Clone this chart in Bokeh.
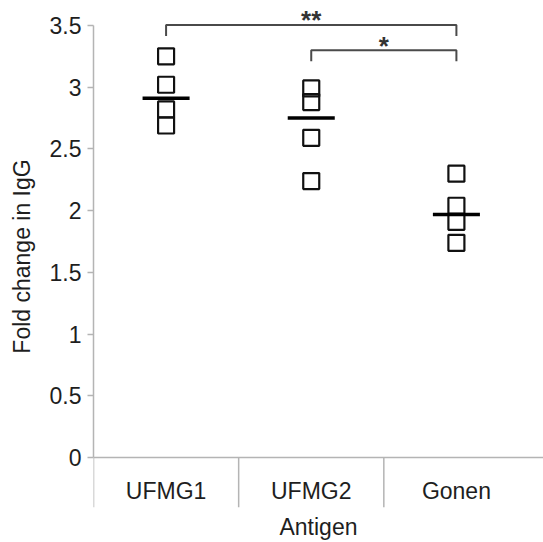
from bokeh.plotting import figure
from bokeh.models import Range1d, FixedTicker, Span
from bokeh.core.properties import value
from bokeh.embed import file_html
from bokeh.resources import INLINE

# Antigen groups and fold-change values (IgG)
categories = ["UFMG1", "UFMG2", "Gonen"]
ufmg1 = [3.25, 3.02, 2.82, 2.69]
ufmg2 = [2.99, 2.88, 2.59, 2.24]
gonen = [2.30, 2.04, 1.91, 1.74]
group_means = [2.91, 2.75, 1.97]

# significance brackets: (left group, right group, bracket height, stars)
comparisons = [(0, 2, 3.505, "**"), (1, 2, 3.30, "*")]

y_ticks = [0, 0.5, 1, 1.5, 2, 2.5, 3, 3.5]

FONT = "Liberation Sans"
FONT_SIZE = "23px"
AXIS_GREY = "#b4b4b4"
TEXT = "#1e1e1e"

x_end = 3.1
y_start, y_end = -0.404, 3.662

p = figure(width=543, height=542, output_backend="svg", toolbar_location=None,
           x_range=Range1d(0, x_end), y_range=Range1d(y_start, y_end),
           min_border_left=93, min_border_right=0, min_border_top=5,
           min_border_bottom=34)
p.outline_line_color = None
p.grid.visible = False
p.background_fill_color = "white"

# y axis
ya = p.yaxis[0]
ya.bounds = (0, 3.5)
ya.ticker = FixedTicker(ticks=y_ticks, minor_ticks=[])
ya.major_label_overrides = {t: (f"{t:g}") for t in y_ticks}
ya.axis_line_color = AXIS_GREY
ya.axis_line_width = 1.5
ya.major_tick_line_color = AXIS_GREY
ya.major_tick_line_width = 1.5
ya.major_tick_out = 6
ya.major_tick_in = 0
ya.minor_tick_line_color = None
ya.major_label_standoff = 6
ya.major_label_text_font = FONT
ya.major_label_text_font_size = FONT_SIZE
ya.major_label_text_color = TEXT
ya.axis_label = "Fold change in IgG"
ya.axis_label_text_font = FONT
ya.axis_label_text_font_size = FONT_SIZE
ya.axis_label_text_font_style = "normal"
ya.axis_label_text_color = TEXT
ya.axis_label_standoff = 12

# x axis carries only the title; categories are written inside the frame
xa = p.xaxis[0]
xa.ticker = FixedTicker(ticks=[], minor_ticks=[])
xa.axis_line_color = None
xa.major_tick_line_color = None
xa.minor_tick_line_color = None
xa.major_label_text_font_size = "0px"
xa.axis_label = "Antigen"
xa.axis_label_text_font = FONT
xa.axis_label_text_font_size = FONT_SIZE
xa.axis_label_text_font_style = "normal"
xa.axis_label_text_color = TEXT
xa.axis_label_standoff = 6

# baseline at zero and category separators
p.add_layout(Span(location=0, dimension="width", line_color=AXIS_GREY, line_width=1.5))
edges = list(range(len(categories)))
p.segment(x0=edges, x1=edges, y0=[y_start] * len(edges), y1=[0] * len(edges),
          line_color=AXIS_GREY, line_width=1.5)

centers = [i + 0.5 for i in range(len(categories))]
p.text(x=centers, y=[-0.267] * len(centers), text=categories,
       text_font=value(FONT), text_font_size=FONT_SIZE, text_color=TEXT,
       text_align="center", text_baseline="middle")

# individual values
for c, vals in zip(centers, [ufmg1, ufmg2, gonen]):
    p.scatter(x=[c] * len(vals), y=vals, marker="square", size=16,
              fill_color=None, line_color="#111111", line_width=2.2)

# group means
p.segment(x0=[c - 0.162 for c in centers], x1=[c + 0.162 for c in centers],
          y0=group_means, y1=group_means, line_color="black", line_width=3.5)

# significance brackets
leg = 0.09
for a, b, h, stars in comparisons:
    xa_, xb_ = centers[a], centers[b]
    p.line(x=[xa_, xa_, xb_, xb_], y=[h - leg, h, h, h - leg],
           line_color="#4a4a4a", line_width=2)
    p.text(x=[(xa_ + xb_) / 2], y=[h + 0.02], text=[stars],
           text_font=value("Liberation Sans"), text_font_size="26px",
           text_font_style="bold", text_color="#333333",
           text_align="center", text_baseline="middle",
           y_offset=-2)

open("out.html", "w").write(file_html(p, INLINE))
